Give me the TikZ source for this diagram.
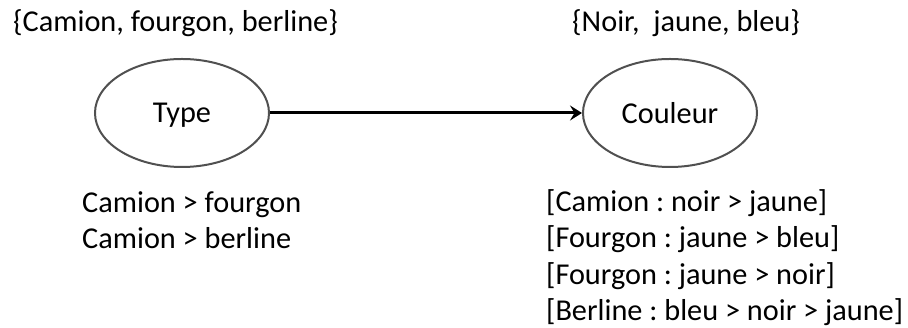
\documentclass[tikz,border=0pt]{standalone}
\usepackage{fontspec}
\setmainfont{Carlito}
\usepackage{xcolor}
\usepackage{tikz}
\usetikzlibrary{arrows.meta,shapes.geometric}
\definecolor{cedge}{RGB}{80,80,80}
\frenchspacing

\begin{document}
\begin{tikzpicture}[
  x=1pt,y=1pt,
  font=\fontsize{30.3}{36.6}\selectfont,
  var/.style={draw=cedge,line width=2pt,ellipse,minimum width=174pt,minimum height=108pt,inner sep=0pt,text depth=0pt},
  txt/.style={inner sep=0pt,anchor=base west,align=left},
  dep/.style={-{Stealth[length=12pt,width=15pt,inset=4.5pt]},line width=3pt,black},
]
\useasboundingbox (0,0) rectangle (908,328);
\node[var] (type)    at (182,215) {Type};
\node[var] (couleur) at (670,215) {Couleur};
\draw[dep] (type) -- (couleur);
% domains above the variables
\node[txt] (domtype) at (13,296)  {\{Camion, fourgon, berline\}};
\node[txt] (domcoul) at (572,296) {\{Noir,\ \ jaune, bleu\}};
% preferences below the variables (anchored on the last line)
\node[txt] (preftype) at (82,79)  {Camion > fourgon\\Camion > berline};
\node[txt] (prefcoul) at (546,7) {[Camion : noir > jaune]\\{}[Fourgon : jaune > bleu]\\{}[Fourgon : jaune > noir]\\{}[Berline : bleu > noir > jaune]};
\end{tikzpicture}
\end{document}
